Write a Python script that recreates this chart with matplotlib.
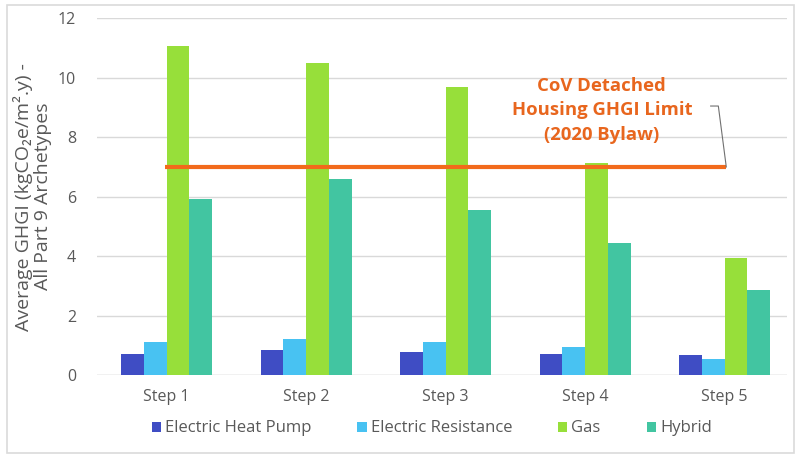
import numpy as np
import matplotlib.pyplot as plt
from matplotlib.patches import Rectangle

plt.rcParams['font.family'] = ['Open Sans', 'DejaVu Sans']

steps = ["Step 1", "Step 2", "Step 3", "Step 4", "Step 5"]
heat_pump = [0.71, 0.84, 0.77, 0.70, 0.67]
resistance = [1.11, 1.21, 1.10, 0.94, 0.54]
gas = [11.08, 10.50, 9.70, 7.14, 3.94]
hybrid = [5.93, 6.60, 5.55, 4.44, 2.86]
ghgi_limit = 7.0
limit_label = "CoV Detached\nHousing GHGI Limit\n(2020 Bylaw)"

series = [
    ("Electric Heat Pump", heat_pump, "#3F4DC4"),
    ("Electric Resistance", resistance, "#48C2F2"),
    ("Gas", gas, "#97DF3A"),
    ("Hybrid", hybrid, "#42C5A1"),
]

fig = plt.figure(figsize=(8.01, 4.58), dpi=100)
ax = fig.add_axes([0.121, 0.181, 0.862, 0.779])

x = np.arange(len(steps))
w = 0.163
for i, (name, vals, col) in enumerate(series):
    ax.bar(x + (i - 1.5) * w, vals, w, color=col, label=name, zorder=2)

# limit line across steps 1-5
ax.plot([x[0] - 0.012, x[-1] + 0.012], [ghgi_limit, ghgi_limit],
        color="#F26A1B", lw=3, zorder=3, solid_capstyle="butt")
ax.text(3.12, 8.9, limit_label, ha="center", va="center", color="#E8661E",
        fontsize=13.3, fontweight="bold", linespacing=1.45)
ax.plot([x[-1] + 0.012, x[-1] - 0.045, x[-1] - 0.10],
        [ghgi_limit, 9.05, 9.05], color="#707070", lw=0.8, zorder=3)

ax.set_xlim(-0.5, 4.45)
ax.set_ylim(0, 12)
ax.set_yticks(range(0, 13, 2))
ax.set_xticks(x)
ax.set_xticklabels(steps)
ax.tick_params(length=0, labelsize=11.5, colors="#595959", pad=10)
ax.tick_params(axis="y", pad=15)
ax.grid(axis="y", color="#D9D9D9", lw=1, zorder=0)
for s in ax.spines.values():
    s.set_visible(False)
ax.axhline(0, color="#D9D9D9", lw=1, zorder=1)

ax.set_ylabel("Average GHGI (kgCO\u2082e/m\u00b2.y) -\nAll Part 9 Archetypes",
              fontsize=14, color="#595959", labelpad=4, linespacing=1.1)

ax.legend(loc="upper center", bbox_to_anchor=(0.485, -0.085), ncol=4, frameon=False,
          fontsize=12, labelcolor="#595959", handlelength=0.55, handleheight=0.55,
          handletextpad=0.25, columnspacing=2.75)

fig.patches.append(Rectangle((0.009, 0.012), 0.982, 0.977, transform=fig.transFigure,
                             fill=False, edgecolor="#DADADA", lw=1.2))

fig.savefig("out.png", dpi=100)
